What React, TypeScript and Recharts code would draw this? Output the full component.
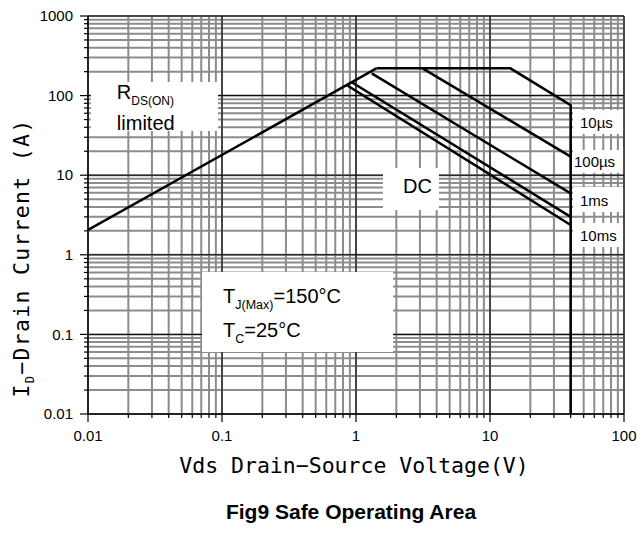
import React from "react";
import { CartesianGrid, Line, LineChart, ReferenceArea, XAxis, YAxis } from "recharts";

// grid / tick values (log axes)
const xTicks = [
  0.01, 0.02, 0.03, 0.04, 0.05, 0.06, 0.07, 0.08, 0.09,
  0.1, 0.2, 0.3, 0.4, 0.5, 0.6, 0.7, 0.8, 0.9,
  1, 2, 3, 4, 5, 6, 7, 8, 9,
  10, 20, 30, 40, 50, 60, 70, 80, 90, 100
];
const yTicks = [
  0.01, 0.02, 0.03, 0.04, 0.05, 0.06, 0.07, 0.08, 0.09,
  0.1, 0.2, 0.3, 0.4, 0.5, 0.6, 0.7, 0.8, 0.9,
  1, 2, 3, 4, 5, 6, 7, 8, 9,
  10, 20, 30, 40, 50, 60, 70, 80, 90,
  100, 200, 300, 400, 500, 600, 700, 800, 900, 1000
];
const xMajor = [0.01, 0.1, 1, 10, 100];
const yMajor = [0.01, 0.1, 1, 10, 100, 1000];

// SOA boundaries (Vds in V, Id in A)
const rdsLimit = [{ v: 0.01, i: 2.05 }, { v: 1.42, i: 220 }];
const pulse10us = [{ v: 1.42, i: 220 }, { v: 14.2, i: 220 }, { v: 40, i: 76 }, { v: 40, i: 0.01 }];
const pulse100us = [{ v: 3.14, i: 220 }, { v: 40, i: 17.1 }];
const pulse1ms = [{ v: 1.31, i: 190 }, { v: 40, i: 5.9 }];
const pulse10ms = [{ v: 0.93, i: 147 }, { v: 40, i: 3.0 }];
const dcLine = [{ v: 0.85, i: 136 }, { v: 40, i: 2.37 }];

const series = [rdsLimit, pulse10us, pulse100us, pulse1ms, pulse10ms, dcLine];

// pulse-width labels at the right edge
const pulseLabels = [
  { text: "10µs", y1: 33, y2: 66, pad: 7 },
  { text: "100µs", y1: 10.7, y2: 20.7, pad: 1 },
  { text: "1ms", y1: 3.45, y2: 7.1, pad: 7 },
  { text: "10ms", y1: 1.25, y2: 2.5, pad: 7 }
];

const SANS = "'Liberation Sans', Arial, sans-serif";
const MONO = "'DejaVu Sans Mono', monospace";

const XTick = (props: any) => {
  const { x, y, payload } = props;
  const major = xMajor.includes(payload.value);
  return (
    <g>
      <line x1={x} x2={x} y1={y} y2={y + (major ? 8 : 4)} stroke="#000" strokeWidth={1.2} />
      {major && (
        <text x={x} y={y + 27} textAnchor="middle" fontSize={15} fontFamily={SANS} fill="#000">
          {String(payload.value)}
        </text>
      )}
    </g>
  );
};

const YTick = (props: any) => {
  const { x, y, payload } = props;
  const major = yMajor.includes(payload.value);
  return (
    <g>
      <line x1={x - (major ? 8 : 4)} x2={x} y1={y} y2={y} stroke="#000" strokeWidth={1.2} />
      {major && (
        <text x={x - 15} y={y} dy="0.35em" textAnchor="end" fontSize={15} fontFamily={SANS} fill="#000">
          {String(payload.value)}
        </text>
      )}
    </g>
  );
};

const RdsText = ({ viewBox }: any) => (
  <text fontFamily={SANS} fill="#000">
    <tspan x={viewBox.x + 26} y={viewBox.y + 17} fontSize={20}>R</tspan>
    <tspan dy={6} fontSize={12}>DS(ON)</tspan>
    <tspan x={viewBox.x + 26} y={viewBox.y + 48} fontSize={20}>limited</tspan>
  </text>
);

const DcText = ({ viewBox }: any) => (
  <text x={viewBox.x + 20} y={viewBox.y + 25} fontFamily={SANS} fontSize={20} fill="#000">DC</text>
);

const TempText = ({ viewBox }: any) => (
  <text fontFamily={SANS} fill="#000">
    <tspan x={viewBox.x + 21} y={viewBox.y + 31} fontSize={20}>T</tspan>
    <tspan dy={6} fontSize={12.5}>J(Max)</tspan>
    <tspan dy={-6} fontSize={20}>=150°C</tspan>
    <tspan x={viewBox.x + 21} y={viewBox.y + 65} fontSize={20}>T</tspan>
    <tspan dy={6} fontSize={12.5}>C</tspan>
    <tspan dy={-6} fontSize={20}>=25°C</tspan>
  </text>
);

export default function App() {
  return (
    <div style={{ position: "absolute", left: 0, top: 0, width: 640, height: 544, background: "#fff" }}>
      <LineChart width={640} height={544} margin={{ top: 16, right: 16, bottom: 0, left: 0 }}>
        <CartesianGrid stroke="#8c8c8c" strokeWidth={2} />
        <CartesianGrid
          stroke="#000"
          strokeWidth={1}
          verticalValues={[0.1, 1, 10, 100]}
          horizontalValues={[0.1, 1, 10, 100, 1000]}
        />
        <XAxis
          type="number"
          dataKey="v"
          scale="log"
          domain={[0.01, 100]}
          ticks={xTicks}
          interval={0}
          height={130}
          tickSize={0}
          tickMargin={0}
          tickLine={false}
          tick={<XTick />}
          axisLine={{ stroke: "#000", strokeWidth: 1.5 }}
          allowDataOverflow
        />
        <YAxis
          type="number"
          dataKey="i"
          scale="log"
          domain={[0.01, 1000]}
          ticks={yTicks}
          interval={0}
          width={88}
          tickSize={0}
          tickMargin={0}
          tickLine={false}
          tick={<YTick />}
          axisLine={{ stroke: "#000", strokeWidth: 1.5 }}
          allowDataOverflow
        />
        <ReferenceArea x1={0.0105} x2={0.0933} y1={35.9} y2={148} fill="#fff" fillOpacity={1} stroke="none" label={RdsText} />
        <ReferenceArea x1={1.59} x2={4.16} y1={3.66} y2={12.3} fill="#fff" fillOpacity={1} stroke="none" label={DcText} />
        <ReferenceArea x1={0.071} x2={1.89} y1={0.06} y2={0.608} fill="#fff" fillOpacity={1} stroke="none" label={TempText} />
        {pulseLabels.map((p) => (
          <ReferenceArea
            key={p.text}
            x1={41.6}
            x2={98.4}
            y1={p.y1}
            y2={p.y2}
            fill="#fff"
            fillOpacity={1}
            stroke="none"
            label={({ viewBox }: any) => (
              <text
                x={viewBox.x + p.pad}
                y={viewBox.y + viewBox.height - 6}
                fontFamily={SANS}
                fontSize={15}
                fill="#000"
              >
                {p.text}
              </text>
            )}
          />
        ))}
        {series.map((d, k) => (
          <Line
            key={k}
            data={d}
            dataKey="i"
            type="linear"
            stroke="#000"
            strokeWidth={2.5}
            dot={false}
            activeDot={false}
            isAnimationActive={false}
          />
        ))}
      </LineChart>
      <div
        style={{
          position: "absolute",
          left: 0,
          width: 708,
          top: 452,
          textAlign: "center",
          fontFamily: MONO,
          fontSize: 21.5,
          lineHeight: "28px",
          whiteSpace: "pre"
        }}
      >
        Vds Drain−Source Voltage(V)
      </div>
      <div
        style={{
          position: "absolute",
          left: 22 - 160,
          top: 258 - 14,
          width: 320,
          height: 28,
          lineHeight: "28px",
          textAlign: "center",
          transform: "rotate(-90deg)",
          fontFamily: MONO,
          fontSize: 21.5,
          letterSpacing: 1.3,
          whiteSpace: "pre"
        }}
      >
        I<span style={{ fontSize: 12, verticalAlign: "-5px" }}>D</span>−Drain Current (A)
      </div>
      <div
        style={{
          position: "absolute",
          left: 0,
          width: 702,
          top: 500,
          textAlign: "center",
          fontFamily: SANS,
          fontWeight: "bold",
          fontSize: 21,
          lineHeight: "24px"
        }}
      >
        Fig9 Safe Operating Area
      </div>
    </div>
  );
}
